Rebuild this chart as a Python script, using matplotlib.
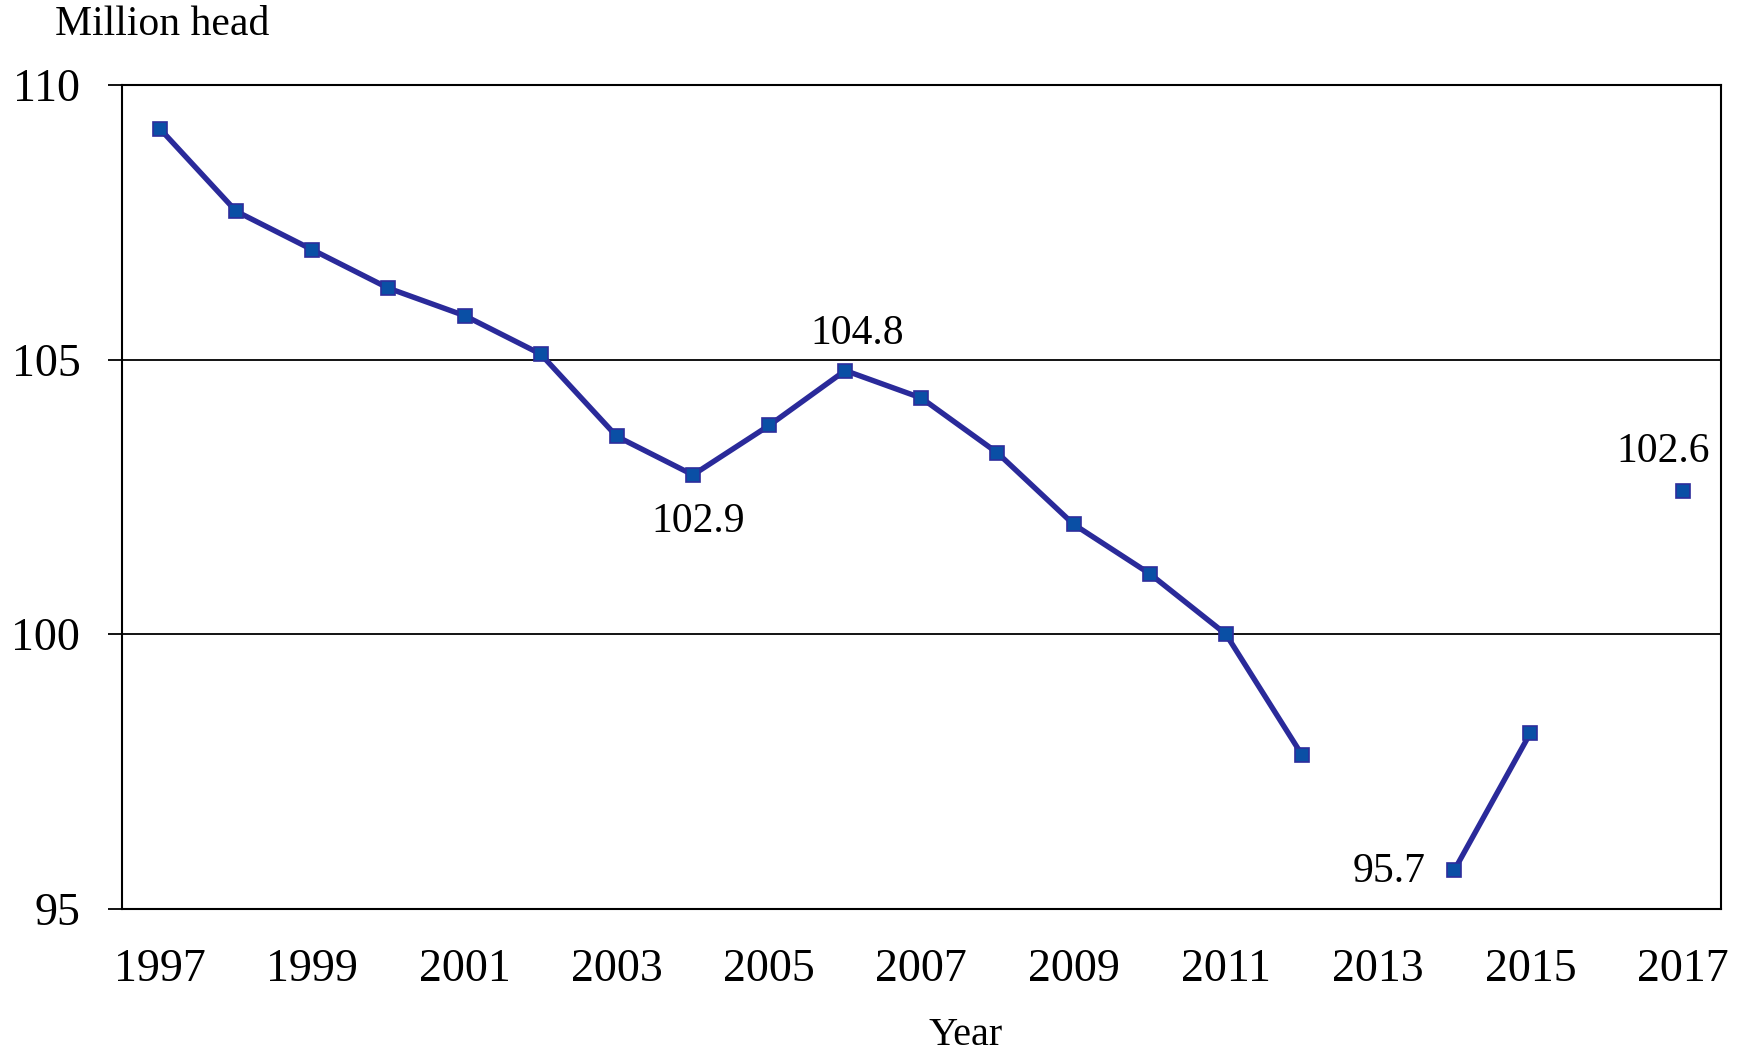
import numpy as np
import matplotlib.pyplot as plt

plt.rcParams['font.family'] = ['Liberation Serif', 'DejaVu Serif']

# cattle numbers, million head (2013 and 2016 not reported)
years = np.arange(1997, 2018)
head = np.array([109.2, 107.7, 107.0, 106.3, 105.8, 105.1, 103.6, 102.9,
                 103.8, 104.8, 104.3, 103.3, 102.0, 101.1, 100.0, 97.8,
                 np.nan, 95.7, 98.2, np.nan, 102.6])
yticks = [95, 100, 105, 110]
xticks = list(range(1997, 2018, 2))

# labelled points: year -> (offset px, ha, va)
labels = {
    2004: ((5, -28), 'center', 'top'),
    2006: ((12, 27), 'center', 'baseline'),
    2014: ((-29, 3), 'right', 'center_baseline'),
    2017: ((-20, 29), 'center', 'baseline'),
}

fig = plt.figure(figsize=(17.45, 10.51), dpi=100)
ax = fig.add_axes([122 / 1745, 1 - 908.7 / 1051, 1598.7 / 1745, 823.7 / 1051])

ax.plot(years, head, color='#2a2a9a', lw=3.9, marker='s', ms=10.5,
        mfc='#0a4fa5', mec='#2d2d9c', mew=1.2, zorder=3)

for yr, (off, ha, va) in labels.items():
    v = head[years == yr][0]
    ax.annotate(f'{v:.1f}', (yr, v), xytext=off, textcoords='offset pixels',
                ha=ha, va=va, fontsize=30)

ax.set_xlim(1996.5, 2017.5)
ax.set_ylim(95, 110)
ax.set_xticks(xticks)
ax.set_yticks(yticks)
ax.grid(axis='y', color='black', lw=1.3)
ax.tick_params(axis='x', length=0, pad=29, labelsize=33)
ax.tick_params(axis='y', length=10, width=1.3, pad=20, labelsize=33)
for s in ax.spines.values():
    s.set_linewidth(1.5)

fig.text(55 / 1745, 1 - 35 / 1051, 'Million head', fontsize=30, va='baseline')
fig.text(966 / 1745, 1 - 1045 / 1051, 'Year', fontsize=29, ha='center', va='baseline')

fig.savefig('out.png', dpi=100)
